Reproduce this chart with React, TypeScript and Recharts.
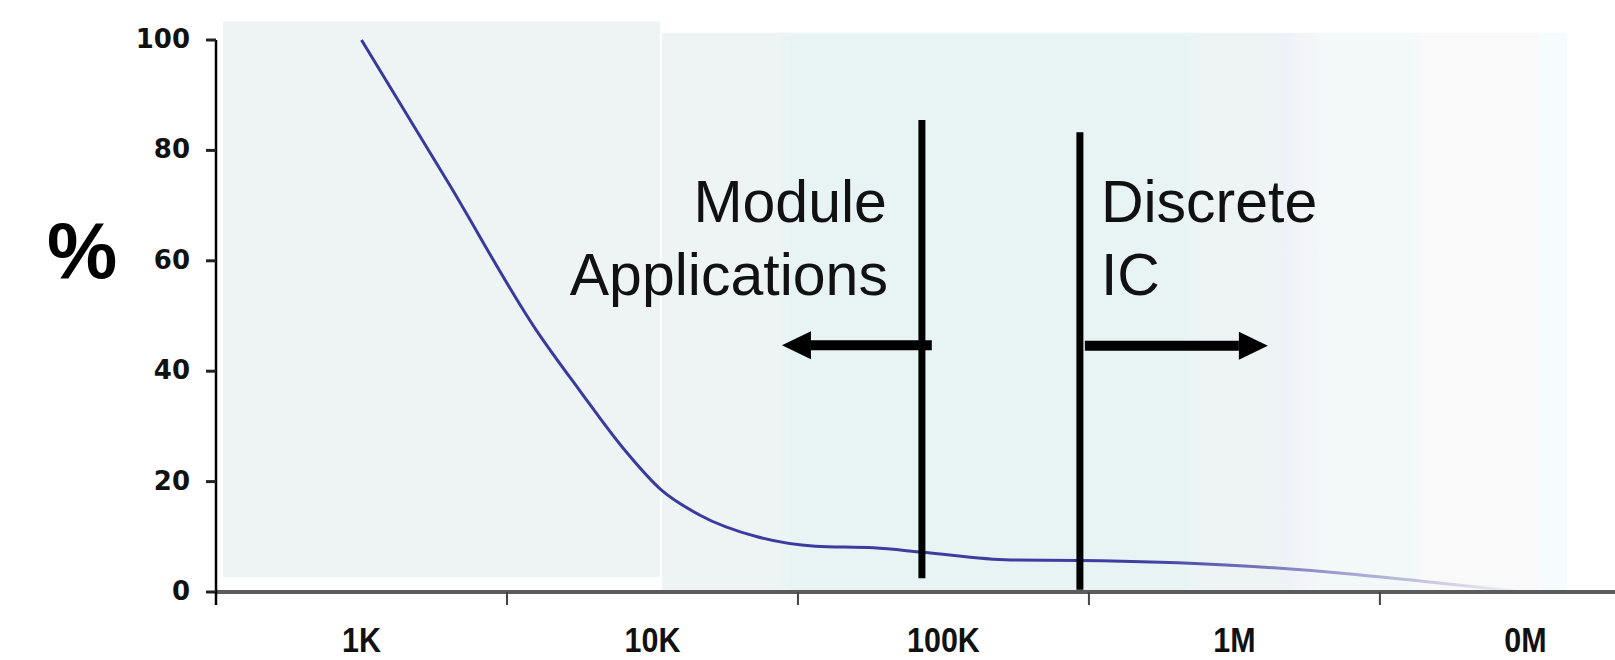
import { LineChart, Line, XAxis, YAxis, ReferenceArea, ReferenceLine, Label } from "recharts";

// one unit on the x axis = one decade; labels sit in the middle of each decade
const decades = ["1K", "10K", "100K", "1M", "0M"];
const decadeTicks = [0, 0.5, 1, 1.5, 2, 2.5, 3, 3.5, 4, 4.5];
const pctTicks = [0, 20, 40, 60, 80, 100];

// curve
const curveX = [0.5, 0.8, 1.1, 1.25, 1.4, 1.53, 1.66, 1.86, 2.06, 2.26, 2.43, 2.73, 2.97, 3.47, 3.87, 4.17, 4.5];
const curveY = [100, 74, 47.5, 36.5, 26, 18.5, 14, 10, 8.3, 8, 7.2, 5.8, 5.7, 4.9, 3.4, 1.8, 0];

const data = curveX.map((x, i) => ({ x, pct: curveY[i] }));

const W = 1615;
const H = 660;

const XTick = (props: any) => {
	const { x, y, payload } = props;
	const v = payload.value;
	if (Number.isInteger(v)) {
		return <line x1={x} x2={x} y1={y} y2={y + 13} stroke={v === 0 ? "#000" : "#444"} strokeWidth={v === 0 ? 2.5 : 2} />;
	}
	const label = decades[Math.floor(v)];
	return (
		<text
			transform={`translate(${x},${y + 60}) scale(0.87,1)`}
			textAnchor="middle"
			fontFamily="'Liberation Sans', Arial, sans-serif"
			fontWeight="bold"
			fontSize={35}
			fill="#111"
		>
			{label}
		</text>
	);
};

const YTick = (props: any) => {
	const { x, y, payload } = props;
	return (
		<text x={x} y={y + 8} textAnchor="end" fontFamily="'DejaVu Sans', sans-serif" fontWeight="bold" fontSize={26} fill="#111">
			{payload.value}
		</text>
	);
};

const Arrow = (props: any) => {
	const { x1, y1, x2 } = props;
	const dir = x2 > x1 ? 1 : -1;
	const head = 29;
	const base = x2 - dir * head;
	return (
		<g>
			<line x1={x1} y1={y1} x2={base} y2={y1} stroke="#000" strokeWidth={10} />
			<polygon points={`${x2},${y1} ${base},${y1 - 14} ${base},${y1 + 14}`} fill="#000" />
		</g>
	);
};

const textStyle = { fontFamily: "'Liberation Sans', Arial, sans-serif", fontSize: 59, fill: "#111" };

export default function App() {
	return (
		<div style={{ position: "absolute", top: 0, left: 0, width: W, height: H, background: "#fff" }}>
			<LineChart width={W} height={H} data={data} margin={{ top: 40, right: 0, bottom: 0, left: 0 }}>
				<defs>
					<linearGradient id="rightBg" x1="0" y1="0" x2="1" y2="0">
						<stop offset="0" stopColor="#EEF4F4" />
						<stop offset="0.123" stopColor="#EEF4F4" />
						<stop offset="0.143" stopColor="#E8F4F4" />
						<stop offset="0.578" stopColor="#E8F4F4" />
						<stop offset="0.6" stopColor="#EEF4F4" />
						<stop offset="0.673" stopColor="#EEF4F4" />
						<stop offset="0.69" stopColor="#EEF2F8" />
						<stop offset="0.71" stopColor="#F4F4F8" />
						<stop offset="0.735" stopColor="#F3F9F9" />
						<stop offset="0.83" stopColor="#F3F9F9" />
						<stop offset="0.84" stopColor="#F9F9F9" />
						<stop offset="0.966" stopColor="#F9F9F9" />
						<stop offset="0.97" stopColor="#F6FCFD" />
						<stop offset="1" stopColor="#F6FCFD" />
					</linearGradient>
					<linearGradient id="curveFade" gradientUnits="userSpaceOnUse" x1="0" y1="0" x2={W} y2="0">
						<stop offset="0" stopColor="#35359c" stopOpacity={1} />
						<stop offset="0.71" stopColor="#35359c" stopOpacity={0.95} />
						<stop offset="0.83" stopColor="#35359c" stopOpacity={0.45} />
						<stop offset="0.94" stopColor="#35359c" stopOpacity={0.05} />
						<stop offset="1" stopColor="#35359c" stopOpacity={0} />
					</linearGradient>
				</defs>

				<XAxis
					dataKey="x"
					type="number"
					scale="linear"
					domain={[0, 4.808]}
					ticks={decadeTicks}
					interval={0}
					height={68}
					tickSize={0}
					tickMargin={0}
					tickLine={false}
					tick={<XTick />}
					axisLine={{ stroke: "#5c5c5c", strokeWidth: 4 }}
				/>
				<YAxis
					type="number"
					domain={[0, 100]}
					ticks={pctTicks}
					width={216}
					tickSize={10}
					tickMargin={16}
					tickLine={{ stroke: "#222", strokeWidth: 3 }}
					tick={<YTick />}
					axisLine={{ stroke: "#000", strokeWidth: 2.5 }}
				>
					<Label
						content={({ viewBox }: any) => (
							<text x={viewBox.x + 82} y={viewBox.y + 238} textAnchor="middle" fontFamily="'Liberation Sans', Arial, sans-serif" fontWeight="bold" fontSize={79} fill="#000">
								%
							</text>
						)}
					/>
				</YAxis>

				<ReferenceArea x1={0.024} x2={1.526} y1={2.7} y2={103.4} fill="#EEF4F4" fillOpacity={1} stroke="none" ifOverflow="visible" />
				<ReferenceArea x1={1.533} x2={4.643} y1={0} y2={101.3} fill="url(#rightBg)" fillOpacity={1} stroke="none" ifOverflow="visible" />

				<Line type="monotone" dataKey="pct" stroke="url(#curveFade)" strokeWidth={3} dot={false} activeDot={false} isAnimationActive={false} />

				<ReferenceLine
					segment={[{ x: 2.426, y: 85.5 }, { x: 2.426, y: 2.5 }]}
					stroke="#000"
					strokeWidth={7}
					ifOverflow="visible"
				>
					<Label
						content={({ viewBox }: any) => (
							<g>
								<text x={viewBox.x - 35} y={viewBox.y + 102} textAnchor="end" {...textStyle}>
									Module
								</text>
								<text x={viewBox.x - 34} y={viewBox.y + 175} textAnchor="end" {...textStyle}>
									Applications
								</text>
							</g>
						)}
					/>
				</ReferenceLine>
				<ReferenceLine
					segment={[{ x: 2.969, y: 83.3 }, { x: 2.969, y: 0.4 }]}
					stroke="#000"
					strokeWidth={7}
					ifOverflow="visible"
				>
					<Label
						content={({ viewBox }: any) => (
							<g>
								<text x={viewBox.x + 21} y={viewBox.y + 90} textAnchor="start" {...textStyle}>
									Discrete
								</text>
								<text x={viewBox.x + 21} y={viewBox.y + 163} textAnchor="start" {...textStyle}>
									IC
								</text>
							</g>
						)}
					/>
				</ReferenceLine>

				<ReferenceLine segment={[{ x: 2.46, y: 44.7 }, { x: 1.945, y: 44.7 }]} shape={<Arrow />} ifOverflow="visible" />
				<ReferenceLine segment={[{ x: 2.986, y: 44.6 }, { x: 3.615, y: 44.6 }]} shape={<Arrow />} ifOverflow="visible" />
			</LineChart>
		</div>
	);
}
